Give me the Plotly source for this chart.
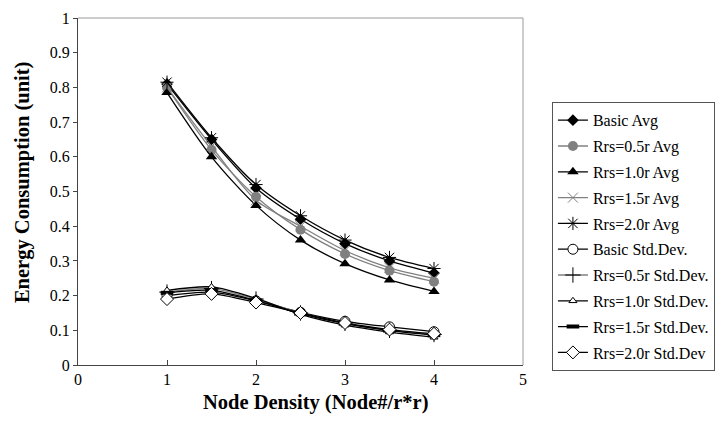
import plotly.graph_objects as go

x = [1, 1.5, 2, 2.5, 3, 3.5, 4]

basic_avg = [0.810, 0.650, 0.510, 0.420, 0.350, 0.300, 0.265]
rrs05_avg = [0.800, 0.620, 0.485, 0.390, 0.320, 0.272, 0.240]
rrs10_avg = [0.785, 0.600, 0.460, 0.360, 0.292, 0.245, 0.212]
rrs15_avg = [0.800, 0.630, 0.475, 0.400, 0.330, 0.280, 0.250]
rrs20_avg = [0.815, 0.655, 0.520, 0.430, 0.360, 0.310, 0.278]

basic_sd = [0.200, 0.210, 0.185, 0.152, 0.126, 0.110, 0.096]
rrs05_sd = [0.210, 0.220, 0.190, 0.150, 0.120, 0.100, 0.088]
rrs10_sd = [0.215, 0.225, 0.192, 0.146, 0.115, 0.095, 0.080]
rrs15_sd = [0.208, 0.215, 0.186, 0.148, 0.119, 0.099, 0.086]
rrs20_sd = [0.190, 0.205, 0.180, 0.150, 0.121, 0.102, 0.090]

names = ["Basic Avg", "Rrs=0.5r Avg", "Rrs=1.0r Avg", "Rrs=1.5r Avg", "Rrs=2.0r Avg",
         "Basic Std.Dev.", "Rrs=0.5r Std.Dev.", "Rrs=1.0r Std.Dev.", "Rrs=1.5r Std.Dev.",
         "Rrs=2.0r Std.Dev"]
series = [basic_avg, rrs05_avg, rrs10_avg, rrs15_avg, rrs20_avg,
          basic_sd, rrs05_sd, rrs10_sd, rrs15_sd, rrs20_sd]

x_title = "Node Density (Node#/r*r)"
y_title = "Energy Consumption (unit)"

styles = [
    dict(lc="black", m=dict(symbol="diamond", size=9, color="black")),
    dict(lc="#808080", m=dict(symbol="circle", size=10, color="#808080")),
    dict(lc="black", m=dict(symbol="triangle-up", size=10, color="black")),
    dict(lc="#808080", m=dict(symbol="x-thin-open", size=10, color="#808080", line=dict(width=1, color="#808080"))),
    dict(lc="black", m=dict(symbol="asterisk-open", size=11, color="black", line=dict(width=1, color="black"))),
    dict(lc="black", m=dict(symbol="circle", size=10, color="white", line=dict(width=1, color="black"))),
    dict(lc="#808080", m=dict(symbol="cross-thin-open", size=11, color="black", line=dict(width=1, color="black"))),
    dict(lc="black", m=dict(symbol="triangle-up", size=7, color="white", line=dict(width=1, color="black"))),
    dict(lc="black", m=dict(symbol="line-ew-open", size=9, color="black", line=dict(width=4, color="black"))),
    dict(lc="black", m=dict(symbol="diamond", size=10, color="white", line=dict(width=1, color="black"))),
]

fig = go.Figure()
for i, (n, s, st) in enumerate(zip(names, series, styles)):
    fig.add_trace(go.Scatter(
        x=x, y=s, name=n, mode="lines+markers", legendgroup=f"g{i}",
        line=dict(color=st["lc"], width=1.3, shape="spline", smoothing=0.8),
        marker=st["m"],
    ))

font = "Liberation Serif, Times New Roman, serif"
fig.update_layout(
    width=727, height=424,
    margin=dict(l=78, r=204, t=10, b=59),
    paper_bgcolor="white", plot_bgcolor="white",
    font=dict(family=font, size=15, color="black"),
    showlegend=True,
    legend=dict(
        x=1.065, y=0.757, xanchor="left", yanchor="top",
        bordercolor="#555555", borderwidth=1,
        font=dict(family=font, size=16, color="black"),
        traceorder="grouped", tracegroupgap=2, itemwidth=30,
    ),
    xaxis=dict(
        range=[0, 5], dtick=1, tick0=0, showgrid=False, zeroline=False,
        showline=True, linecolor="#444444", linewidth=1.2,
        ticks="inside", ticklen=5, tickcolor="#444444",
        tickfont=dict(family=font, size=16),
    ),
    yaxis=dict(
        range=[0, 1], dtick=0.1, showgrid=False, zeroline=False,
        showline=True, linecolor="#444444", linewidth=1.2,
        ticks="outside", ticklen=4, tickcolor="#444444",
        tickfont=dict(family=font, size=16),
    ),
    annotations=[
        dict(text=f"<b>{x_title}</b>", xref="paper", yref="paper", x=0.534, y=-0.107,
             xanchor="center", yanchor="middle", showarrow=False,
             font=dict(family=font, size=20.5, color="black")),
        dict(text=f"<b>{y_title}</b>", xref="paper", yref="paper", x=-0.126, y=0.527,
             xanchor="center", yanchor="middle", showarrow=False, textangle=-90,
             font=dict(family=font, size=20.5, color="black")),
    ],
)
fig.add_shape(type="line", xref="paper", yref="paper", x0=0, x1=1, y0=1, y1=1,
              line=dict(color="#999999", width=1))
fig.add_shape(type="line", xref="paper", yref="paper", x0=1, x1=1, y0=0, y1=1,
              line=dict(color="#999999", width=1))

fig.write_html("out.html")
